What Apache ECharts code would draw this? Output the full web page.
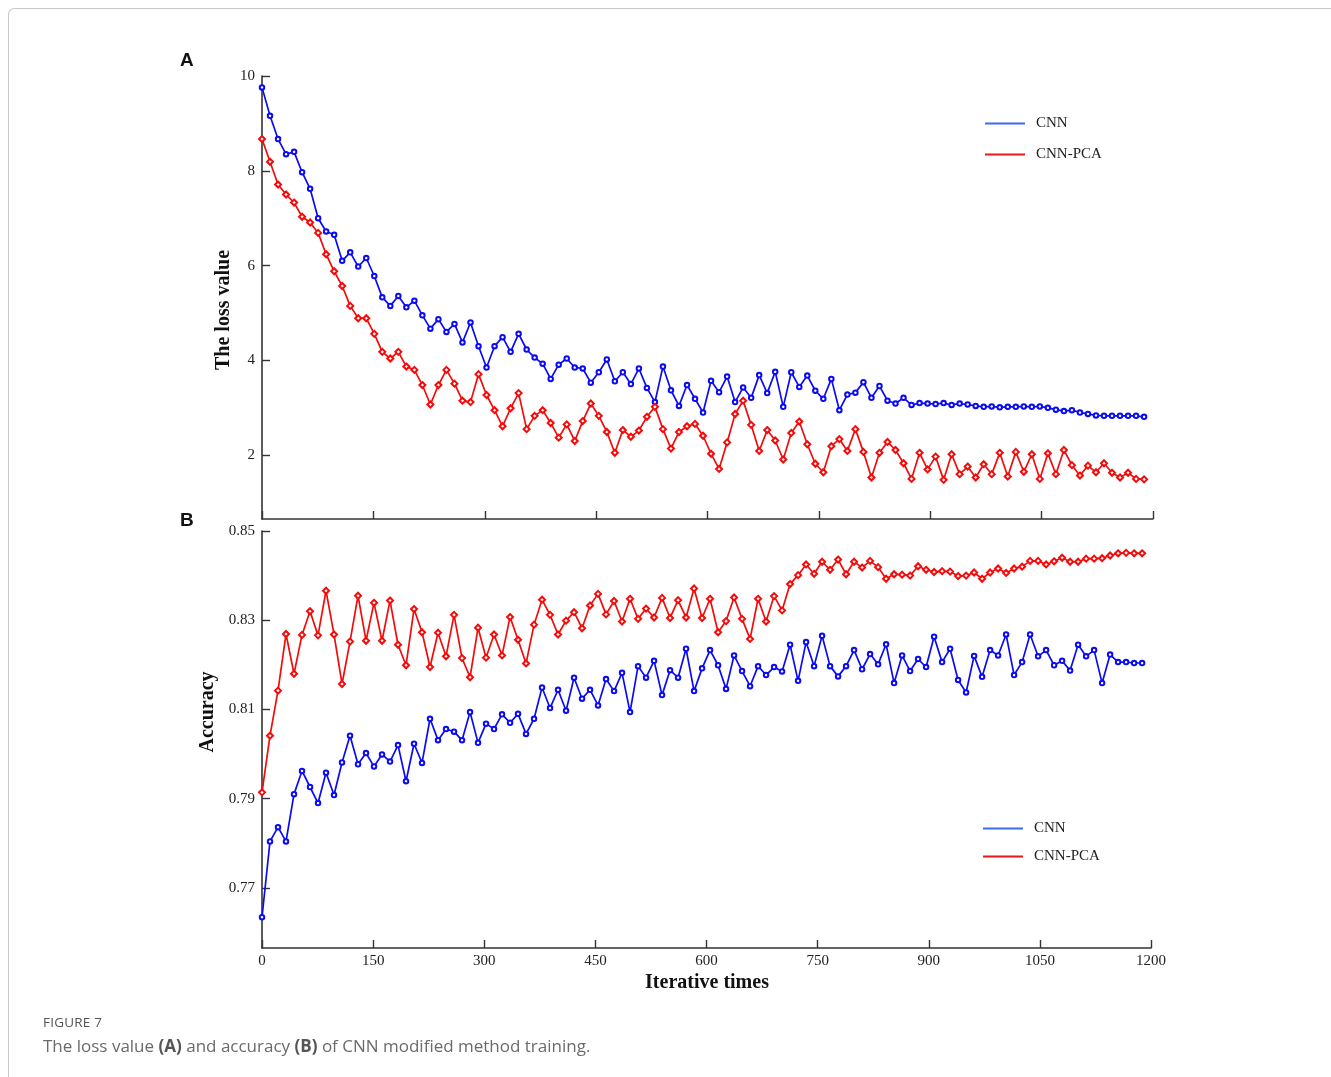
<!DOCTYPE html>
<html>
<head>
<meta charset="utf-8">
<script src="https://cdn.jsdelivr.net/npm/echarts@6/dist/echarts.min.js"></script>
<style>
  body { margin: 0; background: #fff; }
  #frame {
    position: absolute; left: 8px; top: 8px; width: 1340px; height: 1090px;
    border-top: 1px solid #c9c9c9; border-left: 1px solid #c9c9c9;
    border-top-left-radius: 6px; box-sizing: border-box;
  }
  #chart { position: absolute; left: 0; top: 0; width: 1331px; height: 1077px; }
  .cap-title {
    position: absolute; left: 43px; top: 1013px;
    font-family: "Open Sans", sans-serif; font-size: 13.5px; color: #555;
    letter-spacing: 0.2px;
  }
  .cap-text {
    position: absolute; left: 43px; top: 1034px;
    font-family: "Open Sans", sans-serif; font-size: 17px; color: #6a6a6a;
  }
  .cap-text b { color: #555; }
</style>
</head>
<body>
<div id="frame"></div>
<div id="chart"></div>
<div class="cap-title">FIGURE 7</div>
<div class="cap-text">The loss value <b>(A)</b> and accuracy <b>(B)</b> of CNN modified method training.</div>
<script>
// iteration index of each recorded point (111 points, 0 .. ~1188)
const ITER_STEP = 10.8;
const iterations = [];
for (let i = 0; i < 111; i++) iterations.push(+(i * ITER_STEP).toFixed(1));

const xTicks = [0, 150, 300, 450, 600, 750, 900, 1050, 1200];
const lossTicks = [2, 4, 6, 8, 10];
const accTicks = [0.77, 0.79, 0.81, 0.83, 0.85];

// (A) loss value
const lossCnn = [
  9.76, 9.16, 8.67, 8.35, 8.40, 7.97, 7.62, 7.00, 6.72, 6.65, 6.10, 6.28, 5.98, 6.16, 5.78, 5.33, 5.15, 5.36, 5.12, 5.26,
  4.95, 4.67, 4.87, 4.60, 4.77, 4.38, 4.80, 4.30,
  3.85, 4.30, 4.49, 4.18, 4.56, 4.23, 4.06, 3.93, 3.61, 3.91, 4.04, 3.85, 3.83, 3.53, 3.75, 4.02, 3.56, 3.75, 3.50, 3.83,
  3.42, 3.12, 3.87, 3.37, 3.04, 3.48, 3.19, 2.90, 3.57,
  3.33, 3.66, 3.12, 3.43, 3.21, 3.69, 3.31, 3.76, 3.02, 3.75, 3.44, 3.68, 3.36, 3.19, 3.61, 2.95, 3.28, 3.32, 3.54, 3.21,
  3.46, 3.15, 3.09, 3.21, 3.06, 3.10, 3.09,
  3.08, 3.10, 3.06, 3.09, 3.07, 3.04, 3.02, 3.03, 3.01, 3.02, 3.02, 3.03, 3.02, 3.03, 3.00, 2.96, 2.93, 2.95, 2.90, 2.87,
  2.84, 2.83, 2.83, 2.83, 2.83, 2.83, 2.81
];
const lossPca = [
  8.67, 8.19, 7.71, 7.50, 7.33, 7.03, 6.91, 6.69, 6.24, 5.88, 5.57, 5.15, 4.89, 4.89, 4.56, 4.18, 4.04, 4.18, 3.87, 3.80,
  3.48, 3.07, 3.48, 3.80, 3.51, 3.15, 3.12, 3.71,
  3.27, 2.95, 2.61, 2.99, 3.31, 2.55, 2.83, 2.95, 2.68, 2.37, 2.65, 2.30, 2.72, 3.09, 2.83, 2.49, 2.05, 2.53, 2.39, 2.52,
  2.81, 3.02, 2.55, 2.14, 2.49, 2.61, 2.66, 2.41, 2.03,
  1.71, 2.27, 2.87, 3.15, 2.64, 2.09, 2.53, 2.31, 1.91, 2.47, 2.71, 2.23, 1.82, 1.64, 2.19, 2.34, 2.09, 2.55, 2.07, 1.53,
  2.05, 2.28, 2.11, 1.83, 1.50, 2.05, 1.70,
  1.97, 1.48, 2.02, 1.60, 1.76, 1.53, 1.81, 1.60, 2.05, 1.55, 2.07, 1.65, 2.02, 1.50, 2.04, 1.60, 2.11, 1.79, 1.57, 1.78,
  1.64, 1.83, 1.63, 1.53, 1.63, 1.50, 1.49
];

// (B) accuracy
const accCnn = [
  0.7634, 0.7804, 0.7836, 0.7804, 0.7910, 0.7962, 0.7926, 0.7890, 0.7958, 0.7908, 0.7981, 0.8041, 0.7977, 0.8002, 0.7972,
  0.7999, 0.7983, 0.8020, 0.7939, 0.8023, 0.7980, 0.8079, 0.8031, 0.8056, 0.8050, 0.8031, 0.8094, 0.8025, 0.8068,
  0.8056, 0.8089, 0.8070, 0.8090, 0.8045, 0.8079, 0.8149, 0.8103, 0.8144, 0.8097, 0.8171, 0.8124, 0.8144, 0.8109, 0.8168,
  0.8141, 0.8182, 0.8094, 0.8197, 0.8171, 0.8209, 0.8132, 0.8188, 0.8171, 0.8236, 0.8141, 0.8192, 0.8233,
  0.8199, 0.8146, 0.8221, 0.8186, 0.8152, 0.8197, 0.8177, 0.8195, 0.8185, 0.8245, 0.8164, 0.8251, 0.8197, 0.8265, 0.8197,
  0.8174, 0.8197, 0.8233, 0.8190, 0.8224, 0.8201, 0.8246, 0.8159, 0.8221, 0.8186, 0.8213, 0.8195,
  0.8263, 0.8206, 0.8236, 0.8166, 0.8138, 0.8220, 0.8173, 0.8233, 0.8221, 0.8268, 0.8177, 0.8206, 0.8268, 0.8219, 0.8233,
  0.8199, 0.8209, 0.8187, 0.8245, 0.8219, 0.8233, 0.8159, 0.8223, 0.8206, 0.8206, 0.8204, 0.8204
];
const accPca = [
  0.7914, 0.8041, 0.8142, 0.8269, 0.8180, 0.8267, 0.8320, 0.8266, 0.8366, 0.8268, 0.8157, 0.8252, 0.8355, 0.8254, 0.8339,
  0.8254, 0.8344, 0.8245, 0.8199, 0.8325, 0.8273, 0.8195, 0.8272, 0.8219, 0.8312, 0.8215, 0.8172, 0.8283, 0.8216,
  0.8268, 0.8221, 0.8307, 0.8256, 0.8203, 0.8290, 0.8346, 0.8312, 0.8268, 0.8299, 0.8318, 0.8282, 0.8333, 0.8359, 0.8313,
  0.8343, 0.8297, 0.8348, 0.8303, 0.8326, 0.8306, 0.8350, 0.8305, 0.8345, 0.8306, 0.8371, 0.8305, 0.8348,
  0.8273, 0.8298, 0.8351, 0.8303, 0.8258, 0.8348, 0.8297, 0.8354, 0.8322, 0.8381, 0.8401, 0.8425, 0.8404, 0.8431, 0.8413,
  0.8436, 0.8403, 0.8431, 0.8418, 0.8433, 0.8419, 0.8393, 0.8403, 0.8402, 0.8400, 0.8421, 0.8413,
  0.8408, 0.8410, 0.8409, 0.8399, 0.8400, 0.8407, 0.8393, 0.8407, 0.8416, 0.8406, 0.8416, 0.8420, 0.8433, 0.8433, 0.8425,
  0.8432, 0.8440, 0.8431, 0.8431, 0.8438, 0.8438, 0.8439, 0.8445, 0.8450, 0.8451, 0.8450, 0.8450
];

const BLUE = '#0a0af5';
const RED = '#f50a0a';
const SERIF = '"Liberation Serif", "Times New Roman", serif';
const AXIS_COLOR = '#333';

function pairs(ys) {
  return ys.map((v, i) => [iterations[i], v]);
}

function xAxisCfg(gridIndex, showLabels) {
  return {
    type: 'value', gridIndex: gridIndex, min: 0, max: 1200, interval: 150,
    axisLine: { show: true, lineStyle: { color: AXIS_COLOR, width: 1.6 } },
    axisTick: { show: true, inside: true, length: 8, lineStyle: { color: AXIS_COLOR, width: 1.4 } },
    axisLabel: { show: showLabels, margin: 6, formatter: v => String(v),
      fontFamily: SERIF, fontSize: 15, color: '#222' },
    splitLine: { show: false }
  };
}

function yAxisCfg(gridIndex, min, max, ticks, fmt) {
  return {
    type: 'value', gridIndex: gridIndex, min: min, max: max,
    axisLine: { show: true, lineStyle: { color: AXIS_COLOR, width: 1.6 } },
    axisTick: { show: true, inside: true, length: 8, customValues: ticks,
      lineStyle: { color: AXIS_COLOR, width: 1.4 } },
    axisLabel: { show: true, customValues: ticks, margin: 7, formatter: fmt,
      fontFamily: SERIF, fontSize: 15, color: '#222' },
    splitLine: { show: false }
  };
}

function lineSeries(name, ys, idx, color, symbol, size) {
  return {
    name: name, type: 'line', xAxisIndex: idx, yAxisIndex: idx,
    data: pairs(ys), symbol: symbol, symbolSize: size, showSymbol: true,
    lineStyle: { color: color, width: 1.7 },
    itemStyle: { color: color, borderWidth: 1 },
    animation: false
  };
}

function legendCfg(left, top, gap) {
  return {
    left: left, top: top, orient: 'vertical', itemGap: gap, padding: 0,
    itemWidth: 40, itemHeight: 2, icon: 'rect',
    textStyle: { fontFamily: SERIF, fontSize: 15, color: '#222', padding: [0, 0, 0, 6] },
    data: [
      { name: 'CNN', itemStyle: { color: '#3c6ee6' } },
      { name: 'CNN-PCA', itemStyle: { color: '#ee1515' } }
    ]
  };
}

const chart = echarts.init(document.getElementById('chart'));
chart.setOption({
  backgroundColor: 'transparent',
  animation: false,
  grid: [
    { left: 262, top: 76, width: 891, height: 443 },
    { left: 262, top: 531, width: 889, height: 417 }
  ],
  xAxis: [xAxisCfg(0, false), xAxisCfg(1, true)],
  yAxis: [
    yAxisCfg(0, 0.654, 10, lossTicks, v => String(v)),
    yAxisCfg(1, 0.7565, 0.85, accTicks, v => v.toFixed(2))
  ],
  legend: [legendCfg(985, 116, 16), legendCfg(983, 821, 13)],
  series: [
    lineSeries('CNN', lossCnn, 0, BLUE, 'emptyCircle', 4.5),
    lineSeries('CNN-PCA', lossPca, 0, RED, 'emptyDiamond', 6),
    lineSeries('CNN', accCnn, 1, BLUE, 'emptyCircle', 4.5),
    lineSeries('CNN-PCA', accPca, 1, RED, 'emptyDiamond', 6)
  ],
  graphic: [
    { type: 'text', left: 180, top: 51, style: { text: 'A', fontFamily: 'Liberation Sans, Arial', fontWeight: 'bold', fontSize: 19, fill: '#111' } },
    { type: 'text', left: 180, top: 511, style: { text: 'B', fontFamily: 'Liberation Sans, Arial', fontWeight: 'bold', fontSize: 19, fill: '#111' } },
    { type: 'text', x: 224, y: 310, rotation: Math.PI / 2,
      style: { text: 'The loss value', fontFamily: SERIF, fontWeight: 'bold', fontSize: 20, fill: '#111', align: 'center', verticalAlign: 'middle' } },
    { type: 'text', x: 208, y: 712, rotation: Math.PI / 2,
      style: { text: 'Accuracy', fontFamily: SERIF, fontWeight: 'bold', fontSize: 20, fill: '#111', align: 'center', verticalAlign: 'middle' } },
    { type: 'text', x: 707, y: 983,
      style: { text: 'Iterative times', fontFamily: SERIF, fontWeight: 'bold', fontSize: 20, fill: '#111', align: 'center', verticalAlign: 'middle' } }
  ]
});
</script>
</body>
</html>
